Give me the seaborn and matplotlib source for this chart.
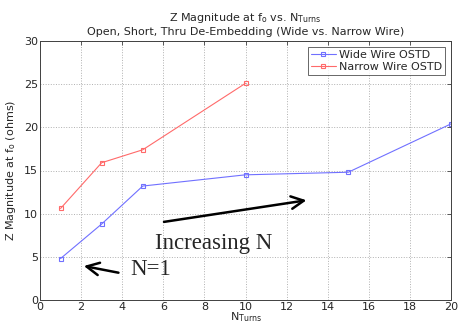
import matplotlib
matplotlib.use("Agg")
import matplotlib.pyplot as plt
import seaborn as sns
import pandas as pd

wide_n = [1, 3, 5, 10, 15, 20]
wide_z = [4.8, 8.8, 13.2, 14.5, 14.8, 20.4]
narrow_n = [1, 3, 5, 10]
narrow_z = [10.6, 15.9, 17.4, 25.1]
series_names = ["Wide Wire OSTD", "Narrow Wire OSTD"]

df = pd.concat([
    pd.DataFrame({"N": wide_n, "Z": wide_z, "series": series_names[0]}),
    pd.DataFrame({"N": narrow_n, "Z": narrow_z, "series": series_names[1]}),
])

sns.set_style("white")
plt.rcParams['font.family'] = ['DejaVu Sans']
fig = plt.figure(figsize=(4.58, 3.24), dpi=100)
ax = fig.add_axes([40/458, 1 - 300/324, 411/458, 259/324])

sns.lineplot(data=df, x="N", y="Z", hue="series", sort=False,
             palette={series_names[0]: "#7070ff", series_names[1]: "#ff6a6a"},
             marker="s", markersize=3.5, linewidth=0.8, ax=ax, legend=True)
for ln in ax.lines:
    ln.set_markerfacecolor("none")
    ln.set_markeredgecolor(ln.get_color())
    ln.set_markeredgewidth(0.8)

ax.set_xlim(0, 20)
ax.set_ylim(0, 30)
ax.set_xticks(range(0, 21, 2))
ax.set_yticks(range(0, 31, 5))
ax.grid(True, linestyle=":", color="#b0b0b0", linewidth=0.7)
ax.tick_params(direction="in", length=3, labelsize=8, top=True, right=True,
               width=0.6, color="#404040", pad=1.5)
for s in ax.spines.values():
    s.set_color("#404040")
    s.set_linewidth(0.7)

ax.set_xlabel(r"N$_{\mathrm{Turns}}$", fontsize=8, labelpad=-1)
ax.set_ylabel(r"Z Magnitude at f$_{\mathrm{o}}$ (ohms)", fontsize=8, labelpad=4)
ax.set_title("Z Magnitude at f$_{\\mathrm{o}}$ vs. N$_{\\mathrm{Turns}}$\nOpen, Short, Thru De-Embedding (Wide vs. Narrow Wire)",
             fontsize=8, pad=4, linespacing=1.3)

leg = ax.legend(loc="upper right", fontsize=8, frameon=True, fancybox=False,
                borderpad=0.3, handlelength=2.2, handletextpad=0.3, labelspacing=0.2)
leg.get_frame().set_edgecolor("#404040")
leg.get_frame().set_linewidth(0.7)
for h in leg.legend_handles:
    h.set_markerfacecolor("none")
    h.set_markeredgecolor(h.get_color())
    h.set_markersize(3)

ax.annotate("", xy=(13.1, 11.6), xytext=(5.9, 9.0),
            arrowprops=dict(arrowstyle="->,head_length=0.9,head_width=0.45", color="black", lw=1.8))
ax.text(5.6, 6.6, "Increasing N", fontsize=16.5, family="Liberation Serif", va="center", ha="left")
ax.annotate("", xy=(2.0, 4.0), xytext=(3.95, 3.1),
            arrowprops=dict(arrowstyle="->,head_length=0.9,head_width=0.45", color="black", lw=1.8))
ax.text(4.4, 3.5, "N=1", fontsize=16.5, family="Liberation Serif", va="center", ha="left")

fig.savefig("out.png", dpi=100)
